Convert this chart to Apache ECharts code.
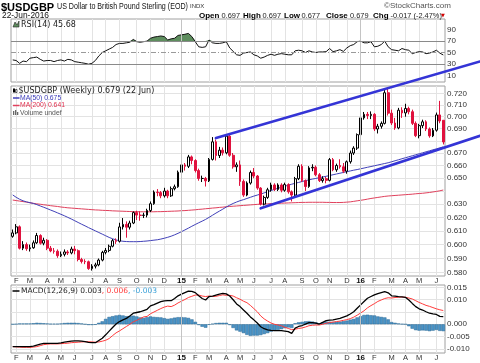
<!DOCTYPE html>
<html><head><meta charset="utf-8">
<script src="https://cdn.jsdelivr.net/npm/echarts@6/dist/echarts.min.js"></script>
<style>html,body{margin:0;padding:0;background:#fff}#c{width:480px;height:363px}</style>
</head><body><div id="c"></div>
<script>
// ---------- data ----------
const firstWeekMonday = '2014-01-27';
const weekCount = 126;
const priceTicks = [0.58,0.59,0.60,0.61,0.62,0.63,0.64,0.65,0.66,0.67,0.68,0.69,0.70,0.71,0.72];
const priceLabelTicks = [0.58,0.59,0.60,0.61,0.62,0.63,0.65,0.66,0.67,0.69,0.70,0.71,0.72];
const rsiTicks = [10,30,50,70,90];
const macdTicks = [-0.010,-0.005,0,0.005,0.010,0.015];
const macdLabelTicks = [-0.010,-0.005,0,0.010,0.015];
const header = {open: '0.697', high: '0.697', low: '0.677', close: '0.679', chg: '-0.017 (-2.47%)'};
// weekly [open, close, low, high]
const ohlc = [
[0.6060,0.6085,0.6050,0.6110],[0.6085,0.6130,0.6075,0.6150],[0.6130,0.5974,0.5965,0.6140],[0.5974,0.6000,0.5960,0.6025],[0.6000,0.5970,0.5955,0.6015],
[0.5970,0.5977,0.5950,0.6000],[0.5977,0.6013,0.5970,0.6030],[0.6013,0.6066,0.6005,0.6085],[0.6066,0.6010,0.6000,0.6075],[0.6010,0.6031,0.5995,0.6050],
[0.6031,0.5974,0.5960,0.6040],[0.5974,0.5954,0.5945,0.5990],[0.5954,0.5952,0.5935,0.5975],[0.5952,0.5920,0.5905,0.5965],[0.5920,0.5930,0.5910,0.5950],
[0.5930,0.5947,0.5915,0.5965],[0.5947,0.5940,0.5925,0.5960],[0.5940,0.5968,0.5930,0.5985],[0.5968,0.5956,0.5930,0.5990],[0.5956,0.5893,0.5880,0.5965],
[0.5893,0.5879,0.5865,0.5905],[0.5879,0.5877,0.5860,0.5895],[0.5877,0.5829,0.5820,0.5885],[0.5829,0.5846,0.5815,0.5860],[0.5846,0.5855,0.5830,0.5870],
[0.5855,0.5889,0.5845,0.5900],[0.5889,0.5944,0.5880,0.5955],[0.5944,0.5958,0.5930,0.5975],[0.5958,0.5988,0.5945,0.6000],[0.5988,0.6028,0.5980,0.6040],
[0.6028,0.6024,0.6005,0.6045],[0.6024,0.6129,0.6015,0.6160],[0.6129,0.6148,0.6110,0.6195],[0.6148,0.6127,0.6050,0.6170],[0.6127,0.6158,0.6110,0.6175],
[0.6158,0.6236,0.6150,0.6245],[0.6236,0.6217,0.6180,0.6250],[0.6217,0.6215,0.6175,0.6245],[0.6215,0.6217,0.6195,0.6235],[0.6217,0.6252,0.6200,0.6265],
[0.6252,0.6303,0.6240,0.6320],[0.6303,0.6392,0.6295,0.6405],[0.6392,0.6388,0.6360,0.6415],[0.6388,0.6363,0.6345,0.6400],[0.6363,0.6400,0.6350,0.6425],
[0.6400,0.6363,0.6345,0.6410],[0.6363,0.6418,0.6355,0.6435],[0.6418,0.6433,0.6405,0.6450],[0.6433,0.6547,0.6425,0.6560],[0.6547,0.6605,0.6530,0.6625],
[0.6605,0.6594,0.6560,0.6620],[0.6594,0.6669,0.6580,0.6685],[0.6669,0.6640,0.6610,0.6680],[0.6640,0.6560,0.6545,0.6650],[0.6560,0.6498,0.6480,0.6575],
[0.6498,0.6498,0.6470,0.6520],[0.6498,0.6479,0.6435,0.6510],[0.6479,0.6649,0.6470,0.6660],[0.6649,0.6791,0.6640,0.6830],[0.6791,0.6680,0.6640,0.6810],
[0.6680,0.6723,0.6660,0.6750],[0.6723,0.6702,0.6680,0.6745],[0.6702,0.6838,0.6690,0.6845],[0.6838,0.6682,0.6670,0.6850],[0.6682,0.6590,0.6575,0.6700],
[0.6590,0.6605,0.6550,0.6625],[0.6605,0.6475,0.6440,0.6640],[0.6475,0.6369,0.6355,0.6490],[0.6369,0.6462,0.6360,0.6475],[0.6462,0.6545,0.6450,0.6560],
[0.6545,0.6517,0.6500,0.6580],[0.6517,0.6423,0.6410,0.6525],[0.6423,0.6300,0.6290,0.6430],[0.6300,0.6351,0.6290,0.6365],[0.6351,0.6410,0.6340,0.6425],
[0.6410,0.6447,0.6395,0.6465],[0.6447,0.6412,0.6400,0.6460],[0.6412,0.6447,0.6400,0.6460],[0.6447,0.6406,0.6390,0.6460],[0.6406,0.6450,0.6395,0.6465],
[0.6450,0.6394,0.6380,0.6460],[0.6394,0.6369,0.6320,0.6405],[0.6369,0.6496,0.6355,0.6510],[0.6496,0.6594,0.6485,0.6610],[0.6594,0.6481,0.6470,0.6610],
[0.6481,0.6435,0.6400,0.6490],[0.6435,0.6581,0.6425,0.6595],[0.6581,0.6586,0.6555,0.6610],[0.6586,0.6527,0.6515,0.6600],[0.6527,0.6481,0.6470,0.6540],
[0.6481,0.6496,0.6465,0.6515],[0.6496,0.6483,0.6460,0.6510],[0.6483,0.6647,0.6475,0.6660],[0.6647,0.6566,0.6555,0.6660],[0.6566,0.6600,0.6550,0.6615],
[0.6600,0.6590,0.6575,0.6650],[0.6590,0.6555,0.6540,0.6620],[0.6555,0.6630,0.6535,0.6640],[0.6630,0.6700,0.6615,0.6720],[0.6700,0.6740,0.6685,0.6755],
[0.6740,0.6850,0.6725,0.6860],[0.6850,0.6990,0.6840,0.7005],[0.6990,0.7020,0.6975,0.7040],[0.7020,0.7010,0.6980,0.7040],[0.7010,0.7020,0.6980,0.7045],
[0.7020,0.6897,0.6880,0.7030],[0.6897,0.6920,0.6860,0.6940],[0.6920,0.6944,0.6900,0.6960],[0.6944,0.7205,0.6935,0.7230],[0.7205,0.7030,0.7010,0.7240],
[0.7030,0.6947,0.6930,0.7060],[0.6947,0.6906,0.6890,0.6990],[0.6906,0.7055,0.6895,0.7075],[0.7055,0.7032,0.6990,0.7080],[0.7032,0.7070,0.7000,0.7110],
[0.7070,0.7042,0.7020,0.7085],[0.7042,0.6944,0.6930,0.7060],[0.6944,0.6842,0.6830,0.6960],[0.6842,0.6925,0.6820,0.6940],[0.6925,0.6957,0.6905,0.6975],
[0.6957,0.6897,0.6880,0.6970],[0.6897,0.6840,0.6825,0.6910],[0.6840,0.6887,0.6830,0.6905],[0.6887,0.7015,0.6875,0.7035],[0.7015,0.6964,0.6945,0.7135],
[0.6970,0.6790,0.6770,0.6970]
];
const ma50 = [
0.6370,0.6352,0.6337,0.6325,0.6317,0.6311,0.6305,0.6296,0.6286,0.6276,
0.6266,0.6255,0.6245,0.6234,0.6223,0.6212,0.6200,0.6188,0.6175,0.6162,
0.6149,0.6137,0.6124,0.6112,0.6100,0.6088,0.6076,0.6064,0.6052,0.6042,
0.6034,0.6028,0.6024,0.6022,0.6021,0.6021,0.6021,0.6022,0.6024,0.6026,
0.6029,0.6032,0.6035,0.6040,0.6046,0.6053,0.6061,0.6071,0.6082,0.6094,
0.6107,0.6120,0.6134,0.6147,0.6160,0.6172,0.6185,0.6200,0.6216,0.6232,
0.6247,0.6262,0.6278,0.6292,0.6305,0.6316,0.6326,0.6334,0.6343,0.6352,
0.6361,0.6369,0.6377,0.6386,0.6395,0.6404,0.6413,0.6421,0.6429,0.6437,
0.6445,0.6453,0.6460,0.6467,0.6474,0.6481,0.6487,0.6493,0.6498,0.6504,
0.6509,0.6515,0.6521,0.6527,0.6533,0.6539,0.6545,0.6551,0.6557,0.6563,
0.6568,0.6574,0.6580,0.6586,0.6592,0.6598,0.6604,0.6610,0.6616,0.6622,
0.6630,0.6638,0.6646,0.6654,0.6662,0.6670,0.6678,0.6686,0.6694,0.6702,
0.6710,0.6718,0.6726,0.6734,0.6742,0.6750];
const ma200 = [
0.6331,0.6327,0.6323,0.6319,0.6315,0.6310,0.6306,0.6302,0.6299,0.6295,
0.6292,0.6288,0.6285,0.6282,0.6278,0.6275,0.6272,0.6270,0.6268,0.6266,
0.6264,0.6262,0.6260,0.6258,0.6256,0.6255,0.6253,0.6252,0.6251,0.6249,
0.6248,0.6247,0.6246,0.6245,0.6244,0.6243,0.6243,0.6242,0.6242,0.6242,
0.6242,0.6242,0.6243,0.6243,0.6244,0.6245,0.6246,0.6247,0.6248,0.6250,
0.6251,0.6253,0.6255,0.6257,0.6260,0.6262,0.6265,0.6267,0.6270,0.6272,
0.6275,0.6277,0.6280,0.6282,0.6284,0.6286,0.6288,0.6290,0.6292,0.6294,
0.6296,0.6298,0.6300,0.6301,0.6302,0.6304,0.6305,0.6306,0.6307,0.6308,
0.6309,0.6310,0.6311,0.6312,0.6313,0.6313,0.6314,0.6314,0.6314,0.6314,
0.6314,0.6313,0.6313,0.6312,0.6312,0.6312,0.6313,0.6315,0.6317,0.6321,
0.6325,0.6329,0.6333,0.6338,0.6343,0.6347,0.6351,0.6355,0.6359,0.6362,
0.6364,0.6366,0.6368,0.6370,0.6372,0.6374,0.6376,0.6379,0.6381,0.6383,
0.6386,0.6389,0.6393,0.6397,0.6402,0.6408];
const rsi = [
37,36,31,35,34,40,41,42,38,35, 36,36,34,36,37,35,38,37,34,33,
32,31,29.5,31,36,44,50,53,56,59, 64,66,66,67,68,73,69,68,69,70,
75,77,78,79,78,72,74,75,80,81, 82,83.5,78,69,60,59,60,72,67,66,
66,67,69,58,52,46,45,49,50,51, 46,44,40,42,45,47,45,47,48,47,
46,46,53,54,53,50,53,51,50,51, 51,51.5,57,51.5,53,55,52,58,62,64,
69,70,67,67,69,60,61,64,70,60, 55,54,53,57,55,54,48,50,51.5,51,
48,49,51,54,49,45.68];
const macd = [
-0.0091,-0.0091,-0.0091,-0.0091,-0.0091,-0.0091,-0.0089,-0.0085,-0.0081,-0.0078,
-0.0078,-0.0078,-0.0078,-0.0078,-0.0076,-0.0073,-0.0071,-0.0069,-0.0068,-0.0068,
-0.0069,-0.0071,-0.0074,-0.0075,-0.0075,-0.0066,-0.0057,-0.0043,-0.0028,-0.0013,
0.0001,0.0011,0.0018,0.0024,0.0034,0.0045,0.0048,0.0051,0.0056,0.0061,
0.0075,0.0080,0.0086,0.0092,0.0095,0.0096,0.0096,0.0105,0.0116,0.0123,
0.0129,0.0135,0.0134,0.0129,0.0116,0.0105,0.0099,0.0113,0.0115,0.0119,
0.0123,0.0126,0.0124,0.0115,0.0100,0.0083,0.0072,0.0058,0.0045,0.0030,
0.0018,0.0005,-0.0010,-0.0018,-0.0023,-0.0025,-0.0026,-0.0026,-0.0026,-0.0028,
-0.0030,-0.0037,-0.0016,-0.0009,-0.0005,0.0001,0.0007,0.0007,0.0005,0.0001,
0.0008,0.0015,0.0017,0.0018,0.0021,0.0024,0.0029,0.0034,0.0042,0.0051,
0.0065,0.0079,0.0093,0.0106,0.0113,0.0120,0.0125,0.0129,0.0133,0.0128,
0.0116,0.0115,0.0113,0.0112,0.0110,0.0099,0.0085,0.0072,0.0063,0.0058,
0.0051,0.0045,0.0042,0.0040,0.0032,0.0031];
const macdSignal = [
-0.0091,-0.0092,-0.0093,-0.0094,-0.0094,-0.0094,-0.0093,-0.0091,-0.0087,-0.0083,
-0.0081,-0.0080,-0.0080,-0.0080,-0.0079,-0.0078,-0.0077,-0.0075,-0.0074,-0.0073,
-0.0072,-0.0071,-0.0071,-0.0072,-0.0073,-0.0072,-0.0069,-0.0065,-0.0058,-0.0046,
-0.0035,-0.0027,-0.0018,-0.0009,0.0000,0.0010,0.0016,0.0023,0.0030,0.0032,
0.0043,0.0050,0.0057,0.0064,0.0070,0.0074,0.0072,0.0078,0.0087,0.0094,
0.0101,0.0109,0.0114,0.0119,0.0119,0.0115,0.0113,0.0115,0.0113,0.0114,
0.0117,0.0120,0.0118,0.0118,0.0115,0.0108,0.0102,0.0094,0.0088,0.0077,
0.0064,0.0051,0.0034,0.0022,0.0013,0.0005,0.0000,-0.0003,-0.0006,-0.0012,
-0.0017,-0.0022,-0.0020,-0.0017,-0.0015,-0.0011,-0.0006,-0.0004,-0.0003,-0.0003,
0.0000,0.0004,0.0007,0.0009,0.0011,0.0013,0.0016,0.0019,0.0023,0.0029,
0.0037,0.0046,0.0055,0.0067,0.0076,0.0084,0.0093,0.0099,0.0105,0.0108,
0.0107,0.0109,0.0110,0.0111,0.0110,0.0107,0.0103,0.0096,0.0089,0.0083,
0.0077,0.0073,0.0068,0.0063,0.0059,0.0056];
const macdHist = [
0.0000,0.0001,0.0003,0.0003,0.0003,0.0003,0.0004,0.0006,0.0005,0.0004,
0.0003,0.0002,0.0002,0.0002,0.0003,0.0005,0.0006,0.0006,0.0006,0.0005,
0.0003,0.0000,-0.0003,-0.0003,-0.0002,0.0006,0.0012,0.0022,0.0030,0.0033,
0.0036,0.0038,0.0036,0.0033,0.0034,0.0035,0.0032,0.0028,0.0026,0.0029,
0.0032,0.0030,0.0029,0.0028,0.0025,0.0022,0.0024,0.0027,0.0029,0.0029,
0.0028,0.0026,0.0020,0.0010,-0.0003,-0.0010,-0.0014,-0.0002,0.0002,0.0005,
0.0006,0.0006,0.0006,-0.0003,-0.0015,-0.0025,-0.0030,-0.0036,-0.0043,-0.0047,
-0.0046,-0.0046,-0.0044,-0.0040,-0.0036,-0.0030,-0.0026,-0.0023,-0.0020,-0.0016,
-0.0013,-0.0015,0.0004,0.0008,0.0010,0.0012,0.0013,0.0011,0.0008,0.0004,
0.0008,0.0011,0.0010,0.0009,0.0010,0.0011,0.0013,0.0015,0.0019,0.0022,
0.0028,0.0033,0.0038,0.0039,0.0037,0.0036,0.0032,0.0030,0.0028,0.0020,
0.0009,0.0006,0.0003,0.0001,0.0000,-0.0008,-0.0018,-0.0024,-0.0026,-0.0025,
-0.0026,-0.0028,-0.0026,-0.0023,-0.0027,-0.0028];
// hand-drawn channel lines: [weekIndex, price] anchors
const upperTrend = [[59, 0.6822], [107, 0.7228]];
const lowerTrend = [[72, 0.6268], [125, 0.6741]];

// ---------- chart ----------
const FONT = '"Liberation Sans", Arial, sans-serif';
const cats = [];
{
  let t = Date.parse(firstWeekMonday + 'T00:00:00Z');
  for (let k = 0; k < weekCount; k++) { cats.push(new Date(t).toISOString().slice(0, 10)); t += 7 * 86400000; }
}
const labelIdx = new Set();
for (let i = 1; i < cats.length; i++) if (cats[i].slice(5, 7) !== cats[i - 1].slice(5, 7)) labelIdx.add(i);
const MONTH = 'JFMAMJJASOND';
const yearStarts = cats.filter((c, i) => labelIdx.has(i) && c.slice(5, 7) === '01');
const L = Math.log;
const last = a => a[a.length - 1];

const GL = 11, GR = 35;
const grids = [
  {left: GL, right: GR, top: 19, height: 63},
  {left: GL, right: GR, top: 86, height: 190},
  {left: GL, right: GR, top: 285, height: 68}
].map(g => Object.assign(g, {show: true, borderColor: '#a0a0a0', borderWidth: 1, backgroundColor: '#fff'}));

function mkX(g, showLabel) {
  return {
    type: 'category', gridIndex: g, data: cats, boundaryGap: true,
    axisLine: {show: false}, axisTick: {show: false},
    axisLabel: {
      show: showLabel, interval: (i) => labelIdx.has(i),
      formatter: (v) => { const m = +v.slice(5, 7); return m === 1 ? '{y|' + v.slice(2, 4) + '}' : MONTH[m - 1]; },
      fontSize: 7.5, color: '#333', margin: 1, fontFamily: FONT,
      rich: {y: {fontWeight: 'bold', fontSize: 8, color: '#111', fontFamily: FONT}}
    },
    splitLine: {show: true, interval: (i) => labelIdx.has(i), alignWithLabel: true, lineStyle: {color: '#e3e3e3', width: 1}}
  };
}
const yLabel = {fontSize: 8, color: '#333', margin: 2, fontFamily: FONT};

function tag(value, text, border, color) {
  return {
    yAxis: value, lineStyle: {opacity: 0},
    label: {show: true, position: 'end', distance: 2, formatter: text, color: color, fontSize: 7.5, fontFamily: FONT,
      backgroundColor: '#fff', borderColor: border, borderWidth: 1, padding: [1, 2, 0, 2], lineHeight: 8}
  };
}
const yearLines = yearStarts.map(c => ({xAxis: c, lineStyle: {color: '#c4c4c4', width: 1, type: 'solid'}, label: {show: false}}));

const option = {
  animation: false,
  grid: grids,
  xAxis: [mkX(0, false), mkX(1, true), mkX(2, true)],
  yAxis: [
    {type: 'value', gridIndex: 0, position: 'right', min: -1.75, max: 108.8,
      axisLine: {show: false}, axisTick: {show: false, customValues: rsiTicks},
      axisLabel: Object.assign({customValues: rsiTicks}, yLabel), splitLine: {show: false}},
    {type: 'value', gridIndex: 1, position: 'right', min: L(0.5777), max: L(0.7264),
      axisLine: {show: false}, axisTick: {show: false, customValues: priceTicks.map(L)},
      axisLabel: Object.assign({customValues: priceLabelTicks.map(L), formatter: v => Math.exp(v).toFixed(3)}, yLabel),
      splitLine: {show: true, lineStyle: {color: '#e3e3e3'}}},
    {type: 'value', gridIndex: 2, position: 'right', min: -0.0117, max: 0.0160,
      axisLine: {show: false}, axisTick: {show: false, customValues: macdTicks},
      axisLabel: Object.assign({customValues: macdLabelTicks, formatter: v => v.toFixed(3)}, yLabel),
      splitLine: {show: true, lineStyle: {color: '#e3e3e3'}}}
  ],
  series: [
    // RSI panel
    {type: 'line', xAxisIndex: 0, yAxisIndex: 0, data: rsi.map(() => 70), stack: 'ob', symbol: 'none', silent: true,
      lineStyle: {opacity: 0}, z: 1},
    {type: 'line', xAxisIndex: 0, yAxisIndex: 0, data: rsi.map(v => Math.max(v - 70, 0)), stack: 'ob', symbol: 'none', silent: true,
      lineStyle: {opacity: 0}, areaStyle: {color: '#5e8e5e', opacity: 1}, z: 1},
    {type: 'line', xAxisIndex: 0, yAxisIndex: 0, data: rsi, symbol: 'none', silent: true,
      lineStyle: {color: '#111', width: 1}, z: 3,
      markLine: {silent: true, symbol: 'none', animation: false, data: [
        ...yearLines,
        {yAxis: 70, lineStyle: {color: '#8a8a8a', width: 1, type: 'solid'}, label: {show: false}},
        {yAxis: 30, lineStyle: {color: '#8a8a8a', width: 1, type: 'solid'}, label: {show: false}},
        {yAxis: 50, lineStyle: {color: '#9a9a9a', width: 1, type: [5, 2, 1, 2]}, label: {show: false}},
        tag(last(rsi), last(rsi).toFixed(2), '#222', '#222')
      ]}},
    // price panel
    {type: 'line', xAxisIndex: 1, yAxisIndex: 1, data: ma200.map(L), symbol: 'none', silent: true,
      lineStyle: {color: '#e0405c', width: 1}, z: 1,
      markLine: {silent: true, symbol: 'none', data: [tag(L(last(ma200)), last(ma200).toFixed(3), '#e0405c', '#333')]}},
    {type: 'line', xAxisIndex: 1, yAxisIndex: 1, data: ma50.map(L), symbol: 'none', silent: true,
      lineStyle: {color: '#4040b8', width: 1}, z: 1,
      markLine: {silent: true, symbol: 'none', data: [tag(L(last(ma50)), last(ma50).toFixed(3), '#4040b8', '#333')]}},
    {type: 'candlestick', xAxisIndex: 1, yAxisIndex: 1, data: ohlc.map(r => r.map(L)), barWidth: 2.2, silent: true, z: 4,
      itemStyle: {color: '#ffffff', color0: '#e0123e', borderColor: '#000', borderColor0: '#e0123e', borderWidth: 1},
      markLine: {silent: true, symbol: 'none', data: [
        ...yearLines,
        tag(L(last(ohlc)[1]), last(ohlc)[1].toFixed(3), '#222', '#222')
      ]}},
    // MACD panel
    {type: 'bar', xAxisIndex: 2, yAxisIndex: 2, data: macdHist, barCategoryGap: '0%', silent: true, z: 1,
      itemStyle: {color: '#4a93c6', borderColor: '#2b6994', borderWidth: 0.5},
      markLine: {silent: true, symbol: 'none', data: [
        ...yearLines,
        tag(last(macdHist), last(macdHist).toFixed(3), '#3a86c0', '#333')
      ]}},
    {type: 'line', xAxisIndex: 2, yAxisIndex: 2, data: macdSignal, symbol: 'none', silent: true,
      lineStyle: {color: '#ff3b3b', width: 1}, z: 3,
      markLine: {silent: true, symbol: 'none', data: [tag(last(macdSignal), last(macdSignal).toFixed(3), '#ff3b3b', '#333')]}},
    {type: 'line', xAxisIndex: 2, yAxisIndex: 2, data: macd, symbol: 'none', silent: true,
      lineStyle: {color: '#000', width: 1.3}, z: 4,
      markLine: {silent: true, symbol: 'none', data: [tag(last(macd), last(macd).toFixed(3), '#222', '#222')]}}
  ]
};

const chart = echarts.init(document.getElementById('c'), null, {width: 480, height: 363});
chart.setOption(option);

// ---------- header, legends and annotations ----------
function T(x, y, text, font, fill, extra) {
  return Object.assign({type: 'text', x: x, y: y, silent: true, z: 200,
    style: {text: text, font: font, fill: fill, verticalAlign: 'middle', align: 'left'}}, extra || {});
}
const f = (w, s) => (w ? 'bold ' : '') + s + 'px "Liberation Sans", Arial, sans-serif';
const dv = s => s + 'px "DejaVu Sans", sans-serif';
const lastBar = last(ohlc);
const g = [
  T(1, 7.5, '$USDGBP', f(true, 11), '#000'),
  T(57, 7, 'US Dollar to British Pound Sterling (EOD)', f(false, 8.4), '#111', {scaleX: 0.85}),
  T(190, 6.5, 'INDX', f(false, 6), '#333'),
  T(2, 15.5, '22-Jun-2016', f(false, 8.4), '#111'),
  T(384, 6, '\u00a9StockCharts.com', f(false, 8), '#555'),
  T(199, 15.5, 'Open', f(true, 8), '#000'), T(221.5, 15.5, header.open, f(false, 7.4), '#222'),
  T(243, 15.5, 'High', f(true, 8), '#000'), T(262.5, 15.5, header.high, f(false, 7.4), '#222'),
  T(284, 15.5, 'Low', f(true, 8), '#000'), T(301.5, 15.5, header.low, f(false, 7.4), '#222'),
  T(326, 15.5, 'Close', f(true, 8), '#000'), T(350, 15.5, header.close, f(false, 7.4), '#222'),
  T(373, 15.5, 'Chg', f(true, 8), '#000'),
  T(390.5, 15.5, header.chg, f(false, 7.4), '#222'),
  T(441, 15.5, '\u25BC', dv(5), '#d00000'),
  // RSI legend
  {type: 'polygon', shape: {points: [[13, 27], [15, 22], [17, 25], [19, 21], [19, 27]]}, style: {fill: '#5e8e5e', stroke: '#222', lineWidth: 0.6}, silent: true, z: 200},
  T(21, 24.5, 'RSI(14) ' + last(rsi).toFixed(2), dv(8), '#222'),
  // price legend
  {type: 'rect', shape: {x: 13, y: 88.5, width: 2, height: 4}, style: {fill: '#000'}, silent: true, z: 200},
  {type: 'rect', shape: {x: 15.5, y: 89.5, width: 1.5, height: 3}, style: {fill: '#fff', stroke: '#000', lineWidth: 0.6}, silent: true, z: 200},
  T(18.5, 91, '$USDGBP (Weekly) ' + lastBar[1].toFixed(3) + ' (22 Jun)', dv(8), '#222'),
  {type: 'line', shape: {x1: 13, y1: 98, x2: 19.5, y2: 98}, style: {stroke: '#4040b8', lineWidth: 1.5}, silent: true, z: 200},
  T(20, 98, 'MA(50) ' + last(ma50).toFixed(3), f(false, 6.8), '#3a3ab8'),
  {type: 'line', shape: {x1: 13, y1: 105.5, x2: 19.5, y2: 105.5}, style: {stroke: '#e0405c', lineWidth: 1.5}, silent: true, z: 200},
  T(20, 105.5, 'MA(200) ' + last(ma200).toFixed(3), f(false, 6.8), '#e0304e'),
  {type: 'rect', shape: {x: 13, y: 111, width: 1.3, height: 4}, style: {fill: '#666'}, silent: true, z: 200},
  {type: 'rect', shape: {x: 15, y: 110, width: 1.3, height: 5}, style: {fill: '#666'}, silent: true, z: 200},
  {type: 'rect', shape: {x: 17, y: 112, width: 1.3, height: 3}, style: {fill: '#666'}, silent: true, z: 200},
  T(20, 113, 'Volume undef', f(false, 6.8), '#555'),
  // MACD legend
  {type: 'line', shape: {x1: 12.5, y1: 291, x2: 19.5, y2: 291}, style: {stroke: '#000', lineWidth: 1.5}, silent: true, z: 200},
  {type: 'text', x: 21, y: 291, silent: true, z: 200, style: {
    text: '{k|MACD(12,26,9) ' + last(macd).toFixed(3) + '}{r|, ' + last(macdSignal).toFixed(3) + '}{b|, ' + last(macdHist).toFixed(3) + '}',
    verticalAlign: 'middle', align: 'left',
    rich: {k: {fill: '#222', font: dv(7.5)}, r: {fill: '#ff3b3b', font: dv(7.5)}, b: {fill: '#39a0d8', font: dv(7.5)}}}}
];
function px(pt) { return chart.convertToPixel({gridIndex: 1}, [pt[0], L(pt[1])]); }
[upperTrend, lowerTrend].forEach(t => {
  const a = px(t[0]), b = px(t[1]);
  const x2 = 480, y2 = a[1] + (x2 - a[0]) * (b[1] - a[1]) / (b[0] - a[0]);
  g.push({type: 'line', shape: {x1: a[0], y1: a[1], x2: x2, y2: y2}, style: {stroke: '#3434d6', lineWidth: 2.6, lineCap: 'round'}, silent: true, z: 150});
});
chart.setOption({graphic: g});
</script>
</body></html>
